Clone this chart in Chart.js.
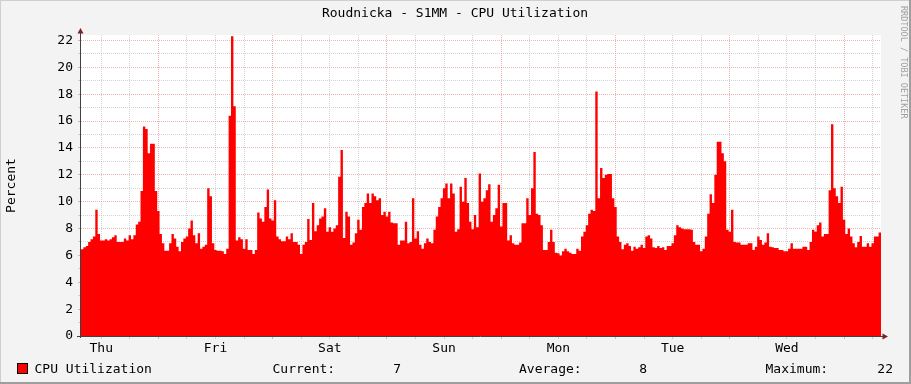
<!DOCTYPE html>
<html>
<head>
<meta charset="utf-8">
<script src="https://cdn.jsdelivr.net/npm/chart.js@4.4.1/dist/chart.umd.min.js"></script>
<style>
  html, body { margin: 0; padding: 0; background: #f3f3f3; }
  #cpuGraph { display: block; }
</style>
</head>
<body>
<canvas id="cpuGraph" width="911" height="384"></canvas>
<script>
// weekly view, one sample every 30 min, first sample at 07:45 on Thursday
const dayLabels = ['Thu', 'Fri', 'Sat', 'Sun', 'Mon', 'Tue', 'Wed'];
const startHour = 7.75;
const stepHours = 0.5;
const spanHours = 168;

const cpuThuFri = [
  6.45, 6.6, 6.7, 7.0, 7.2, 7.4, 9.4, 7.6, 7.1, 7.1,
  7.2, 7.1, 7.2, 7.35, 7.5, 7.0, 7.0, 7.0, 7.25, 7.1,
  7.5, 7.2, 7.5, 8.3, 8.5, 10.8, 15.6, 15.4, 13.6, 14.3,
  14.3, 10.8, 9.3, 7.6, 6.9, 6.35, 6.35, 6.9, 7.6, 7.25,
  6.65, 6.3, 7.0, 7.25, 7.4, 8.0, 8.6, 7.5, 6.9, 7.65,
  6.5, 6.65, 6.8, 11.0, 10.4, 6.9, 6.4, 6.35, 6.35, 6.3,
  6.1, 6.5, 16.4, 22.3, 17.1, 7.1, 7.35, 7.2, 6.5, 7.2,
  6.4, 6.4, 6.1, 6.4, 9.2, 8.75, 8.5, 9.6, 10.9, 8.75,
  8.6, 10.1, 7.4, 7.2
];
const cpuFriSun = [
  7.05, 7.05, 7.4, 7.2, 7.65, 7.0, 7.0, 6.8, 6.1, 6.8,
  7.0, 8.7, 7.15, 9.9, 7.8, 8.25, 8.75, 8.9, 9.5, 7.75,
  8.1, 7.75, 8.0, 8.25, 11.85, 13.85, 7.3, 9.25, 8.9, 6.8,
  6.95, 7.65, 8.65, 7.9, 9.6, 9.9, 10.6, 9.9, 10.6, 10.4,
  10.1, 10.25, 9.0, 9.25, 8.9, 9.25, 8.45, 8.4, 8.4, 6.8,
  7.1, 7.1, 8.5, 6.9, 7.0, 10.25, 7.25, 7.8, 6.8, 6.5,
  6.9, 7.25, 7.0, 6.9, 7.9, 8.9, 9.6, 10.25, 11.0, 11.35,
  10.25, 11.35, 10.6, 7.75, 7.95, 11.1, 10.0, 11.75, 9.9, 8.5,
  7.95, 9.0, 8.1, 12.1
];
const cpuSunTue = [
  10.0, 10.25, 10.85, 11.3, 8.5, 9.0, 9.5, 11.25, 8.15, 9.9,
  9.9, 7.1, 7.5, 6.9, 6.8, 6.8, 6.95, 8.4, 8.4, 10.25,
  9.0, 11.0, 13.7, 9.1, 9.0, 8.25, 6.4, 6.4, 7.0, 7.9,
  7.0, 6.2, 6.15, 6.0, 6.3, 6.5, 6.3, 6.2, 6.1, 6.1,
  6.5, 6.35, 7.4, 7.75, 8.25, 9.1, 9.4, 9.3, 18.2, 10.25,
  12.5, 11.75, 12.0, 12.05, 12.05, 10.25, 9.6, 7.4, 7.0, 6.45,
  6.8, 6.9, 6.7, 6.35, 6.65, 6.5, 6.6, 6.8, 6.55, 7.4,
  7.5, 7.25, 6.6, 6.55, 6.7, 6.55, 6.6, 6.4, 6.7, 6.7,
  6.9, 7.5, 8.25, 8.1
];
const cpuTueThu = [
  8.0, 7.95, 7.95, 7.95, 7.9, 7.0, 6.8, 6.8, 6.3, 6.5,
  7.4, 9.1, 10.55, 9.9, 12.0, 14.45, 14.45, 13.6, 13.0, 7.9,
  7.75, 9.4, 7.0, 6.95, 6.95, 6.8, 6.8, 6.8, 6.9, 6.9,
  6.4, 6.65, 7.4, 7.15, 6.8, 6.95, 7.65, 6.65, 6.6, 6.55,
  6.55, 6.4, 6.4, 6.3, 6.3, 6.5, 6.9, 6.5, 6.5, 6.5,
  6.5, 6.65, 6.65, 6.4, 7.0, 7.9, 7.75, 8.25, 8.45, 7.4,
  7.6, 7.6, 10.85, 15.75, 11.0, 10.4, 9.9, 11.1, 8.65, 7.6,
  8.0, 7.4, 6.9, 6.6, 7.0, 7.45, 6.65, 6.65, 6.9, 6.65,
  6.9, 7.4, 7.4, 7.7
];

const statLabels = ['Current:', 'Average:', 'Maximum:'];
const statValues = ['7', '8', '22'];
const yMax = 22.4;

const cpu = [...cpuThuFri, ...cpuFriSun, ...cpuSunTue, ...cpuTueThu];
const points = cpu.map((v, i) => ({ x: i * stepHours, y: v }));
points.push({ x: spanHours, y: cpu[cpu.length - 1] }); // hold last sample to the edge

const FONT = '"DejaVu Sans Mono", "Liberation Mono", monospace';
const MINOR = 'rgba(180, 180, 180, 0.6)';
const MAJOR = 'rgba(235, 110, 110, 0.55)';

const hourOfDay = t => (startHour + t) % 24;

// background, frame, axes, title, legend - the rrdtool furniture
const rrdFrame = {
  id: 'rrdFrame',
  beforeDraw(chart) {
    const c = chart.ctx, a = chart.chartArea;
    const W = chart.width, H = chart.height;
    c.save();
    c.fillStyle = '#f3f3f3';
    c.fillRect(0, 0, W, H);
    c.fillStyle = '#cfcfcf';
    c.fillRect(0, 0, W, 1);
    c.fillRect(0, 0, 1, H);
    c.fillStyle = '#9e9e9e';
    c.fillRect(0, H - 2, W, 2);
    c.fillRect(W - 2, 0, 2, H);
    c.fillStyle = '#ffffff';
    c.fillRect(a.left, a.top, a.right - a.left, a.bottom - a.top);
    c.restore();
  },
  afterDraw(chart) {
    const c = chart.ctx, a = chart.chartArea;
    c.save();
    // axes
    c.strokeStyle = '#404040';
    c.lineWidth = 1;
    c.beginPath();
    c.moveTo(a.left - 0.5, a.bottom + 2);
    c.lineTo(a.left - 0.5, a.top - 4);
    c.moveTo(a.left - 4, a.bottom + 0.5);
    c.lineTo(a.right + 3, a.bottom + 0.5);
    c.stroke();
    c.fillStyle = '#802020';
    c.beginPath();
    c.moveTo(a.left - 0.5, a.top - 7);
    c.lineTo(a.left - 3.5, a.top - 1.5);
    c.lineTo(a.left + 2.5, a.top - 1.5);
    c.closePath();
    c.fill();
    c.beginPath();
    c.moveTo(a.right + 7, a.bottom + 0.5);
    c.lineTo(a.right + 1.5, a.bottom - 2.5);
    c.lineTo(a.right + 1.5, a.bottom + 3.5);
    c.closePath();
    c.fill();

    // title
    c.fillStyle = '#000';
    c.font = '13px ' + FONT;
    c.textAlign = 'center';
    c.textBaseline = 'middle';
    c.fillText('Roudnicka - S1MM - CPU Utilization', 455, 14);

    // legend row
    c.textAlign = 'left';
    c.textBaseline = 'alphabetic';
    c.fillStyle = '#ff0000';
    c.fillRect(17, 363, 11, 11);
    c.strokeStyle = '#000';
    c.strokeRect(17.5, 363.5, 10, 10);
    c.fillStyle = '#000';
    c.fillText('CPU Utilization', 34.5, 373);
    const labelX = [272.5, 519, 765.5];
    const valueRight = [401, 647, 893];
    statLabels.forEach((s, i) => c.fillText(s, labelX[i], 373));
    c.textAlign = 'right';
    statValues.forEach((s, i) => c.fillText(s, valueRight[i], 373));

    // watermark
    c.fillStyle = '#a0a0a0';
    c.font = '8.5px ' + FONT;
    c.textAlign = 'left';
    c.textBaseline = 'middle';
    c.translate(903, 6);
    c.rotate(Math.PI / 2);
    c.fillText('RRDTOOL / TOBI OETIKER', 0, 0);
    c.restore();
  }
};

new Chart(document.getElementById('cpuGraph'), {
  type: 'line',
  data: {
    datasets: [{
      label: 'CPU Utilization',
      data: points,
      fill: 'origin',
      stepped: 'before',
      backgroundColor: '#ff0000',
      borderWidth: 0,
      pointRadius: 0,
      tension: 0
    }]
  },
  options: {
    responsive: false,
    animation: false,
    events: [],
    layout: { padding: { left: 0, top: 35, right: 30, bottom: 0 } },
    plugins: {
      legend: { display: false },
      title: { display: false },
      tooltip: { enabled: false }
    },
    scales: {
      x: {
        type: 'linear',
        min: 0,
        max: spanHours,
        z: 1,
        afterFit: s => { s.height = 48; },
        afterBuildTicks: s => {
          const ticks = [];
          for (let t = 6 - (startHour % 6); t < spanHours; t += 6) ticks.push({ value: t });
          s.ticks = ticks;
        },
        ticks: {
          autoSkip: false,
          maxRotation: 0,
          padding: 2,
          color: '#000',
          font: { family: FONT, size: 13 },
          callback: v => hourOfDay(v) === 12 ? dayLabels[Math.floor((startHour + v) / 24)] : ''
        },
        grid: {
          color: c => hourOfDay(c.tick.value) === 0 ? MAJOR : MINOR,
          tickLength: 3
        },
        border: { display: false, dash: [1, 1] }
      },
      y: {
        min: 0,
        max: yMax,
        z: 1,
        afterFit: s => { s.width = 81; },
        afterBuildTicks: s => {
          const ticks = [];
          for (let v = 0; v <= 22; v++) ticks.push({ value: v });
          s.ticks = ticks;
        },
        ticks: {
          autoSkip: false,
          padding: 5,
          color: '#000',
          font: { family: FONT, size: 13 },
          callback: v => v % 2 === 0 ? String(v) : ''
        },
        grid: {
          color: c => c.tick.value % 2 === 0 ? MAJOR : MINOR,
          tickLength: 3
        },
        border: { display: false, dash: [1, 1] },
        title: {
          display: true,
          text: 'Percent',
          color: '#000',
          font: { family: FONT, size: 13 },
          padding: { top: 4, bottom: 0 }
        }
      }
    }
  },
  plugins: [rrdFrame]
});
</script>
</body>
</html>
